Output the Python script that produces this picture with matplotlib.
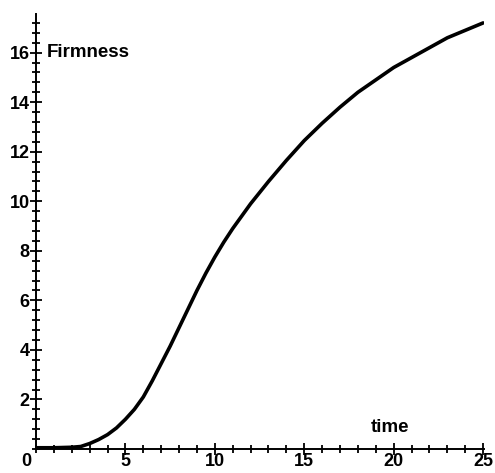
import matplotlib
matplotlib.use("Agg")
import matplotlib.pyplot as plt
from matplotlib.ticker import MultipleLocator, FixedLocator

time = [0, 1, 2, 2.5, 3, 3.5, 4, 4.5, 5, 5.5, 6, 6.5, 7, 7.5, 8, 8.5, 9, 9.5, 10, 10.5, 11,
        12, 13, 14, 15, 16, 17, 18, 19, 20, 21, 22, 23, 24, 25]
firmness = [0.05, 0.05, 0.07, 0.1, 0.22, 0.38, 0.58, 0.85, 1.2, 1.6, 2.1, 2.75, 3.45, 4.15, 4.9, 5.65, 6.4, 7.1, 7.75, 8.35, 8.9,
            9.9, 10.8, 11.65, 12.45, 13.15, 13.8, 14.4, 14.9, 15.4, 15.8, 16.2, 16.6, 16.9, 17.2]
xticks = [5, 10, 15, 20, 25]
yticks = [2, 4, 6, 8, 10, 12, 14, 16]

plt.rcParams['font.family'] = ['Liberation Sans', 'DejaVu Sans']

fig = plt.figure(figsize=(4.95, 4.73), dpi=100)
ax = fig.add_axes([36/495, 24/473, 448/495, 435/473])
ax.plot(time, firmness, color='black', lw=2.6, solid_capstyle='round', solid_joinstyle='round')
ax.set_xlim(0, 25.05)
ax.set_ylim(0, 17.56)
for s in ['top', 'right']:
    ax.spines[s].set_visible(False)
for s in ['left', 'bottom']:
    ax.spines[s].set_linewidth(1.4)
ax.xaxis.set_major_locator(FixedLocator(xticks))
ax.yaxis.set_major_locator(FixedLocator(yticks))
ax.xaxis.set_minor_locator(MultipleLocator(1))
ax.yaxis.set_minor_locator(MultipleLocator(0.4))
ax.tick_params(which='both', direction='inout', width=1.3, color='black')
ax.tick_params(which='major', length=8, labelsize=13)
ax.tick_params(axis='x', which='major', pad=-1)
ax.tick_params(axis='y', which='major', pad=0.5)
ax.tick_params(which='minor', length=6)
for lab in ax.get_xticklabels() + ax.get_yticklabels():
    lab.set_fontweight('bold')
ax.annotate('0', xy=(0, 0), xycoords='data', xytext=(-3, -3), textcoords='offset points',
            ha='right', va='top', fontsize=13, fontweight='bold', annotation_clip=False)
ax.text(0.6, 16, 'Firmness', ha='left', va='center', fontsize=13.5, fontweight='bold')
ax.text(19.8, 0.85, 'time', ha='center', va='center', fontsize=13.5, fontweight='bold')
fig.savefig('out.png', dpi=100)
